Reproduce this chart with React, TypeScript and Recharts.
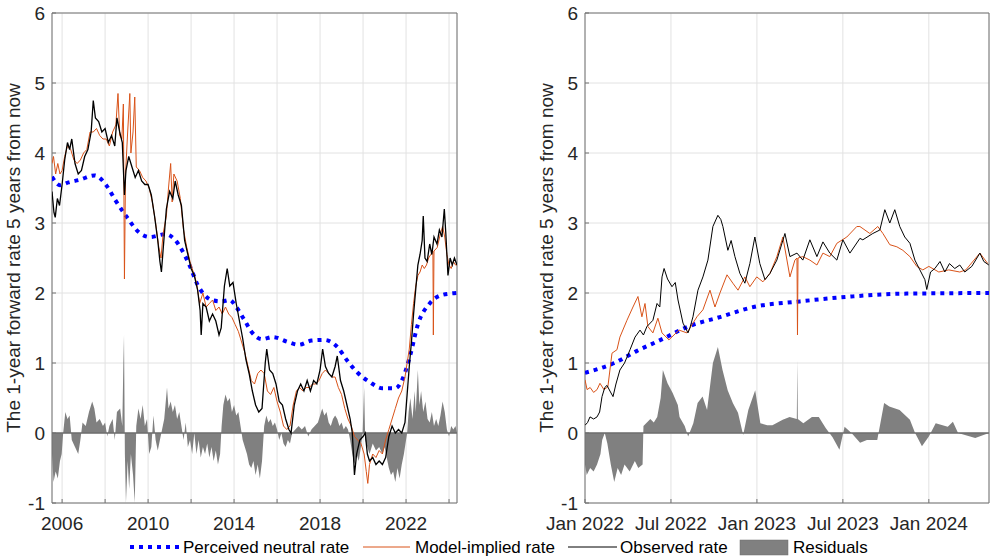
import React from 'react';
import { ComposedChart, Line, Area, XAxis, YAxis, CartesianGrid, ReferenceLine, ReferenceArea } from 'recharts';

type Pt = [number, number];

// ---- left panel (2005-2024), decimal years ----
const leftObserved: Pt[] = [
  [2005.53, 3.45], [2005.62, 3.15], [2005.68, 3.08], [2005.78, 3.35], [2005.88, 3.25], [2006.0, 3.55],
  [2006.12, 3.9], [2006.25, 4.15], [2006.35, 4.05], [2006.45, 4.2], [2006.6, 3.85], [2006.75, 3.7],
  [2006.9, 3.75], [2007.05, 3.95], [2007.2, 4.05], [2007.35, 4.3], [2007.45, 4.75], [2007.55, 4.5],
  [2007.7, 4.45], [2007.85, 4.3], [2008.0, 4.35], [2008.15, 4.15], [2008.3, 4.25], [2008.45, 4.1],
  [2008.55, 4.5], [2008.68, 4.3], [2008.8, 4.15], [2008.9, 3.4], [2008.97, 3.75], [2009.1, 3.95],
  [2009.25, 3.8], [2009.4, 3.65], [2009.55, 3.75], [2009.7, 3.6], [2009.85, 3.55], [2010.0, 3.55],
  [2010.15, 3.4], [2010.3, 3.1], [2010.45, 2.75], [2010.55, 2.45], [2010.62, 2.3], [2010.72, 2.7],
  [2010.85, 3.2], [2011.0, 3.45], [2011.15, 3.35], [2011.26, 3.6], [2011.4, 3.4], [2011.55, 3.25],
  [2011.7, 2.75], [2011.85, 2.55], [2012.0, 2.35], [2012.15, 2.25], [2012.3, 2.05], [2012.42, 1.75],
  [2012.47, 1.4], [2012.55, 1.85], [2012.7, 1.8], [2012.85, 1.6], [2013.0, 1.7], [2013.15, 1.6],
  [2013.3, 1.4], [2013.4, 1.5], [2013.55, 2.1], [2013.68, 2.35], [2013.8, 2.1], [2013.95, 2.15],
  [2014.1, 1.85], [2014.25, 1.6], [2014.4, 1.35], [2014.55, 1.05], [2014.7, 0.85], [2014.85, 0.6],
  [2015.0, 0.4], [2015.15, 0.3], [2015.3, 0.35], [2015.45, 1.0], [2015.52, 1.2], [2015.65, 0.9],
  [2015.8, 0.85], [2015.95, 0.7], [2016.1, 0.45], [2016.25, 0.4], [2016.4, 0.2], [2016.55, 0.05],
  [2016.65, 0.0], [2016.8, 0.4], [2016.95, 0.6], [2017.1, 0.7], [2017.25, 0.6], [2017.4, 0.75],
  [2017.55, 0.6], [2017.7, 0.75], [2017.85, 0.7], [2018.0, 0.9], [2018.12, 1.2], [2018.25, 0.95],
  [2018.4, 0.85], [2018.55, 0.8], [2018.7, 0.95], [2018.8, 1.1], [2018.95, 0.75], [2019.1, 0.6],
  [2019.25, 0.4], [2019.4, 0.2], [2019.5, 0.0], [2019.6, -0.6], [2019.7, -0.3], [2019.85, -0.1],
  [2020.0, -0.05], [2020.1, 0.0], [2020.2, -0.3], [2020.3, -0.4], [2020.45, -0.35], [2020.6, -0.45],
  [2020.75, -0.4], [2020.9, -0.45], [2021.05, -0.35], [2021.2, -0.05], [2021.35, 0.1], [2021.5, 0.0],
  [2021.65, 0.05], [2021.8, 0.0], [2021.95, 0.15], [2022.05, 0.55], [2022.15, 0.95], [2022.25, 1.3],
  [2022.35, 1.7], [2022.45, 2.05], [2022.55, 2.4], [2022.65, 2.55], [2022.75, 2.75], [2022.8, 3.1],
  [2022.88, 2.5], [2022.98, 2.45], [2023.1, 2.7], [2023.2, 2.55], [2023.3, 2.8], [2023.44, 2.7],
  [2023.55, 2.9], [2023.67, 2.8], [2023.78, 3.2], [2023.85, 2.85], [2023.95, 2.25], [2024.05, 2.5],
  [2024.15, 2.4], [2024.25, 2.5], [2024.37, 2.4],
];

const leftModel: Pt[] = [
  [2005.53, 3.85], [2005.6, 3.95], [2005.7, 3.7], [2005.8, 3.85], [2005.9, 3.7], [2006.0, 3.75],
  [2006.12, 3.95], [2006.25, 4.1], [2006.4, 4.05], [2006.55, 3.9], [2006.7, 3.85], [2006.85, 3.9],
  [2007.0, 4.0], [2007.15, 4.05], [2007.3, 4.3], [2007.45, 4.3], [2007.6, 4.35], [2007.75, 4.25],
  [2007.9, 4.2], [2008.05, 4.2], [2008.2, 4.1], [2008.35, 4.3], [2008.5, 4.4], [2008.6, 4.85],
  [2008.68, 4.25], [2008.78, 4.2], [2008.85, 4.7], [2008.9, 2.2], [2008.95, 3.7], [2009.05, 4.3],
  [2009.15, 4.85], [2009.2, 4.0], [2009.3, 4.3], [2009.38, 4.8], [2009.45, 3.8], [2009.6, 3.75],
  [2009.75, 3.65], [2009.9, 3.6], [2010.05, 3.5], [2010.2, 3.3], [2010.35, 3.0], [2010.5, 2.65],
  [2010.6, 2.5], [2010.7, 2.85], [2010.85, 3.1], [2010.95, 3.5], [2011.05, 3.85], [2011.12, 3.3],
  [2011.2, 3.7], [2011.35, 3.6], [2011.5, 3.35], [2011.65, 2.9], [2011.8, 2.65], [2011.95, 2.45],
  [2012.1, 2.3], [2012.25, 2.15], [2012.4, 1.85], [2012.55, 2.0], [2012.7, 1.8], [2012.85, 1.85],
  [2013.0, 1.9], [2013.15, 1.75], [2013.3, 1.8], [2013.45, 1.7], [2013.6, 1.8], [2013.75, 1.7],
  [2013.9, 1.65], [2014.05, 1.55], [2014.2, 1.45], [2014.35, 1.3], [2014.5, 1.15], [2014.65, 0.95],
  [2014.8, 0.75], [2014.95, 0.7], [2015.1, 0.85], [2015.25, 0.9], [2015.4, 0.85], [2015.55, 0.6],
  [2015.7, 0.55], [2015.85, 0.65], [2016.0, 0.45], [2016.15, 0.3], [2016.3, 0.1], [2016.45, 0.05],
  [2016.6, 0.1], [2016.75, 0.4], [2016.9, 0.6], [2017.05, 0.65], [2017.2, 0.6], [2017.35, 0.65],
  [2017.5, 0.65], [2017.65, 0.7], [2017.8, 0.7], [2017.95, 0.75], [2018.1, 0.85], [2018.25, 0.9],
  [2018.4, 0.85], [2018.55, 0.8], [2018.7, 0.8], [2018.85, 0.65], [2019.0, 0.55], [2019.15, 0.35],
  [2019.3, 0.2], [2019.45, 0.1], [2019.6, -0.05], [2019.75, -0.1], [2019.9, -0.15], [2020.05, -0.3],
  [2020.15, -0.55], [2020.22, -0.72], [2020.3, -0.45], [2020.45, -0.3], [2020.6, -0.35], [2020.75, -0.25],
  [2020.9, -0.3], [2021.05, -0.1], [2021.2, 0.05], [2021.35, 0.2], [2021.5, 0.35], [2021.65, 0.5],
  [2021.8, 0.6], [2021.95, 0.8], [2022.05, 1.0], [2022.15, 1.2], [2022.25, 1.55], [2022.35, 1.85],
  [2022.45, 2.1], [2022.55, 2.25], [2022.65, 2.3], [2022.75, 2.4], [2022.85, 2.35], [2022.95, 2.4],
  [2023.05, 2.5], [2023.15, 2.55], [2023.25, 2.6], [2023.27, 1.4], [2023.3, 2.6], [2023.45, 2.65],
  [2023.6, 2.85], [2023.7, 2.95], [2023.8, 2.8], [2023.9, 2.55], [2024.0, 2.4], [2024.1, 2.35],
  [2024.2, 2.45], [2024.3, 2.4], [2024.37, 2.4],
];

const leftNeutral: Pt[] = [
  [2005.53, 3.66], [2005.9, 3.54], [2006.3, 3.58], [2006.85, 3.62], [2007.5, 3.68], [2008.1, 3.52],
  [2008.47, 3.33], [2009.0, 3.09], [2009.6, 2.86], [2010.1, 2.8], [2010.8, 2.84], [2011.25, 2.76],
  [2011.6, 2.6], [2011.95, 2.38], [2012.3, 2.12], [2012.6, 1.98], [2012.95, 1.9], [2013.4, 1.88],
  [2013.8, 1.9], [2014.1, 1.8], [2014.45, 1.63], [2014.85, 1.43], [2015.3, 1.34], [2015.8, 1.37],
  [2016.5, 1.3], [2017.0, 1.26], [2017.6, 1.32], [2018.2, 1.33], [2018.8, 1.23], [2019.25, 1.04],
  [2019.75, 0.86], [2020.3, 0.73], [2020.9, 0.64], [2021.5, 0.64], [2021.85, 0.78], [2022.2, 1.12],
  [2022.55, 1.55], [2023.1, 1.85], [2023.65, 1.97], [2024.37, 2.0],
];

const leftResiduals: Pt[] = [
  [2005.53, -0.3], [2005.6, -0.7], [2005.7, -0.55], [2005.8, -0.65], [2005.9, -0.4], [2005.98, -0.3],
  [2006.05, 0.0], [2006.15, 0.3], [2006.25, 0.2], [2006.35, 0.25], [2006.45, -0.1], [2006.6, -0.2],
  [2006.75, -0.3], [2006.85, -0.1], [2006.95, 0.15], [2007.1, 0.1], [2007.25, 0.3], [2007.4, 0.45],
  [2007.5, 0.35], [2007.6, 0.15], [2007.75, 0.2], [2007.9, 0.1], [2008.0, 0.15], [2008.1, -0.05],
  [2008.2, 0.1], [2008.35, 0.2], [2008.45, -0.1], [2008.55, 0.3], [2008.7, 0.35], [2008.8, 0.1],
  [2008.85, 1.0], [2008.88, 1.4], [2008.92, -0.3], [2008.97, -1.0], [2009.05, -0.4], [2009.12, -0.8],
  [2009.2, -0.3], [2009.3, -0.6], [2009.38, -1.0], [2009.45, 0.1], [2009.55, 0.35], [2009.65, 0.2],
  [2009.75, 0.4], [2009.85, 0.1], [2009.95, 0.2], [2010.05, -0.3], [2010.15, -0.2], [2010.25, 0.25],
  [2010.35, -0.1], [2010.45, -0.25], [2010.55, -0.1], [2010.65, 0.05], [2010.75, 0.2], [2010.88, 0.65],
  [2010.95, 0.35], [2011.05, 0.45], [2011.15, 0.3], [2011.25, 0.4], [2011.35, 0.2], [2011.45, 0.3],
  [2011.55, 0.1], [2011.65, -0.1], [2011.75, 0.15], [2011.85, -0.2], [2011.95, -0.1], [2012.05, -0.3],
  [2012.15, 0.0], [2012.25, -0.3], [2012.35, -0.1], [2012.45, -0.35], [2012.55, -0.2], [2012.65, -0.3],
  [2012.75, -0.15], [2012.85, -0.35], [2012.95, -0.2], [2013.05, -0.4], [2013.15, -0.25], [2013.25, -0.45],
  [2013.35, -0.3], [2013.42, 0.1], [2013.5, 0.4], [2013.6, 0.55], [2013.7, 0.45], [2013.8, 0.5],
  [2013.9, 0.3], [2014.0, 0.4], [2014.1, 0.25], [2014.2, 0.3], [2014.3, 0.1], [2014.4, -0.1],
  [2014.5, -0.2], [2014.6, -0.3], [2014.7, -0.45], [2014.8, -0.5], [2014.9, -0.4], [2015.0, -0.6],
  [2015.1, -0.45], [2015.2, -0.65], [2015.3, -0.4], [2015.4, 0.1], [2015.5, 0.25], [2015.6, 0.15],
  [2015.7, 0.2], [2015.8, 0.1], [2015.9, 0.15], [2016.0, 0.05], [2016.1, -0.1], [2016.2, 0.0],
  [2016.3, -0.15], [2016.4, -0.2], [2016.5, -0.1], [2016.6, -0.15], [2016.7, 0.0], [2016.85, 0.05],
  [2017.0, 0.1], [2017.15, 0.05], [2017.3, 0.1], [2017.45, -0.05], [2017.6, 0.05], [2017.75, 0.1],
  [2017.9, 0.15], [2018.0, 0.25], [2018.1, 0.35], [2018.2, 0.25], [2018.3, 0.3], [2018.4, 0.15],
  [2018.5, 0.1], [2018.6, 0.2], [2018.7, 0.25], [2018.8, 0.2], [2018.9, 0.1], [2019.0, 0.15],
  [2019.1, 0.05], [2019.2, 0.1], [2019.3, 0.05], [2019.4, -0.1], [2019.5, -0.3], [2019.6, -0.45],
  [2019.7, -0.3], [2019.8, -0.4], [2019.9, -0.2], [2019.98, 0.0], [2020.05, 0.65], [2020.1, -0.1],
  [2020.2, -0.2], [2020.3, -0.3], [2020.45, -0.15], [2020.6, -0.25], [2020.75, -0.2], [2020.9, -0.3],
  [2021.0, -0.2], [2021.1, -0.35], [2021.2, -0.5], [2021.3, -0.6], [2021.4, -0.55], [2021.5, -0.7],
  [2021.6, -0.5], [2021.7, -0.65], [2021.8, -0.45], [2021.9, -0.3], [2022.0, -0.1], [2022.05, 0.0],
  [2022.12, 0.3], [2022.2, 0.5], [2022.3, 0.2], [2022.4, 0.6], [2022.45, 0.3], [2022.55, 0.9],
  [2022.62, 0.4], [2022.7, 0.6], [2022.8, 0.3], [2022.9, 0.45], [2023.0, 0.2], [2023.1, 0.15],
  [2023.2, 0.3], [2023.3, 0.1], [2023.4, 0.2], [2023.5, 0.1], [2023.6, 0.25], [2023.7, 0.45],
  [2023.8, 0.3], [2023.9, 0.05], [2024.0, -0.05], [2024.1, 0.1], [2024.2, 0.05], [2024.3, 0.1],
  [2024.37, 0.0],
];

// ---- right panel (Jan 2022 - 2024), decimal years ----
const rightObserved: Pt[] = [
  [2022.0, 0.11], [2022.015, 0.15], [2022.029, 0.23], [2022.05, 0.2], [2022.07, 0.23], [2022.085, 0.3],
  [2022.099, 0.52], [2022.115, 0.65], [2022.128, 0.68], [2022.145, 0.6], [2022.163, 0.52], [2022.18, 0.7],
  [2022.203, 0.9], [2022.23, 1.0], [2022.262, 1.19], [2022.291, 1.37], [2022.32, 1.47], [2022.34, 1.4],
  [2022.36, 1.52], [2022.395, 1.61], [2022.419, 1.85], [2022.435, 1.8], [2022.448, 2.23], [2022.46, 2.35],
  [2022.48, 2.2], [2022.506, 2.09], [2022.525, 2.15], [2022.541, 1.9], [2022.57, 1.57], [2022.599, 1.43],
  [2022.61, 1.5], [2022.628, 1.66], [2022.657, 2.04], [2022.686, 2.23], [2022.715, 2.47], [2022.744, 2.95],
  [2022.773, 3.11], [2022.79, 3.05], [2022.802, 2.95], [2022.831, 2.61], [2022.85, 2.75], [2022.872, 2.52],
  [2022.901, 2.28], [2022.93, 2.14], [2022.959, 2.42], [2022.988, 2.8], [2023.017, 2.42], [2023.047, 2.19],
  [2023.076, 2.28], [2023.116, 2.47], [2023.163, 2.85], [2023.192, 2.52], [2023.233, 2.57], [2023.267, 2.47],
  [2023.308, 2.76], [2023.349, 2.52], [2023.384, 2.73], [2023.424, 2.57], [2023.465, 2.47], [2023.5, 2.76],
  [2023.541, 2.57], [2023.599, 2.78], [2023.616, 2.76], [2023.674, 2.85], [2023.715, 2.9], [2023.744, 3.19],
  [2023.773, 3.0], [2023.802, 3.19], [2023.831, 2.95], [2023.86, 2.8], [2023.89, 2.71], [2023.919, 2.47],
  [2023.948, 2.33], [2023.977, 2.19], [2023.988, 2.05], [2024.01, 2.3], [2024.035, 2.35], [2024.065, 2.45],
  [2024.093, 2.3], [2024.12, 2.42], [2024.151, 2.35], [2024.18, 2.4], [2024.209, 2.3], [2024.25, 2.38],
  [2024.297, 2.57], [2024.32, 2.45], [2024.349, 2.4],
];

const rightModel: Pt[] = [
  [2022.0, 0.76], [2022.012, 0.62], [2022.03, 0.65], [2022.05, 0.58], [2022.07, 0.62], [2022.087, 0.71],
  [2022.11, 0.62], [2022.133, 0.66], [2022.157, 1.14], [2022.186, 1.19], [2022.203, 1.37], [2022.244, 1.61],
  [2022.279, 1.8], [2022.308, 1.95], [2022.331, 1.66], [2022.349, 1.85], [2022.366, 1.52], [2022.395, 1.43],
  [2022.424, 1.64], [2022.448, 1.43], [2022.488, 1.33], [2022.547, 1.47], [2022.593, 1.43], [2022.651, 1.66],
  [2022.686, 1.76], [2022.727, 2.04], [2022.756, 1.8], [2022.785, 2.0], [2022.826, 2.26], [2022.86, 2.14],
  [2022.89, 2.04], [2022.93, 2.23], [2022.959, 2.09], [2022.999, 2.23], [2023.035, 2.16], [2023.076, 2.28],
  [2023.116, 2.52], [2023.151, 2.8], [2023.192, 2.23], [2023.221, 2.47], [2023.233, 2.5], [2023.236, 1.4],
  [2023.239, 2.5], [2023.267, 2.52], [2023.308, 2.47], [2023.349, 2.4], [2023.384, 2.57], [2023.424, 2.52],
  [2023.465, 2.71], [2023.523, 2.8], [2023.581, 2.95], [2023.599, 2.95], [2023.657, 2.85], [2023.703, 2.95],
  [2023.733, 2.85], [2023.773, 2.69], [2023.814, 2.66], [2023.849, 2.61], [2023.89, 2.52], [2023.93, 2.38],
  [2023.965, 2.33], [2024.0, 2.38], [2024.058, 2.3], [2024.116, 2.33], [2024.18, 2.3], [2024.215, 2.33],
  [2024.297, 2.57], [2024.343, 2.42],
];

const rightNeutral: Pt[] = [
  [2022.0, 0.86], [2022.17, 1.0], [2022.3, 1.17], [2022.44, 1.33], [2022.6, 1.52], [2022.79, 1.66],
  [2022.98, 1.8], [2023.25, 1.88], [2023.55, 1.95], [2023.84, 1.99], [2024.35, 2.0],
];

const rightResiduals: Pt[] = [
  [2022.0, -0.45], [2022.01, -0.6], [2022.03, -0.5], [2022.05, -0.55], [2022.07, -0.45], [2022.09, -0.3],
  [2022.1, -0.1], [2022.115, 0.0], [2022.13, -0.15], [2022.15, -0.45], [2022.17, -0.7], [2022.19, -0.5],
  [2022.21, -0.6], [2022.23, -0.45], [2022.26, -0.55], [2022.29, -0.4], [2022.31, -0.5], [2022.335, -0.45],
  [2022.34, 0.1], [2022.36, 0.15], [2022.38, 0.2], [2022.4, 0.15], [2022.42, 0.23], [2022.44, 0.5],
  [2022.453, 0.9], [2022.48, 0.71], [2022.51, 0.57], [2022.54, 0.4], [2022.55, 0.23], [2022.58, 0.1],
  [2022.6, -0.05], [2022.63, 0.14], [2022.655, 0.43], [2022.684, 0.52], [2022.71, 0.33], [2022.744, 1.0],
  [2022.773, 1.23], [2022.8, 0.9], [2022.83, 0.61], [2022.86, 0.43], [2022.89, 0.29], [2022.92, -0.03],
  [2022.95, 0.33], [2022.99, 0.61], [2023.02, 0.14], [2023.06, 0.11], [2023.09, 0.11], [2023.15, 0.19],
  [2023.19, 0.23], [2023.232, 0.2], [2023.235, 1.04], [2023.238, 0.2], [2023.27, 0.14], [2023.32, 0.23],
  [2023.36, 0.23], [2023.4, 0.07], [2023.44, -0.06], [2023.48, -0.24], [2023.51, 0.09], [2023.55, 0.0],
  [2023.6, -0.14], [2023.64, -0.1], [2023.7, -0.1], [2023.74, 0.43], [2023.77, 0.38], [2023.83, 0.33],
  [2023.89, 0.19], [2023.92, 0.0], [2023.96, -0.19], [2024.0, -0.05], [2024.04, 0.14], [2024.11, 0.09],
  [2024.14, 0.16], [2024.17, 0.0], [2024.27, -0.07], [2024.35, 0.0],
];

const yTicks = [-1, 0, 1, 2, 3, 4, 5, 6];
const leftTicks = [2006, 2008, 2010, 2012, 2014, 2016, 2018, 2020, 2022, 2024];
const leftTickLabels = ['2006', '', '2010', '', '2014', '', '2018', '', '2022', ''];
const rightTicks = [2022, 2022.5, 2023, 2023.5, 2024];
const rightTickLabels = ['Jan 2022', 'Jul 2022', 'Jan 2023', 'Jul 2023', 'Jan 2024'];

const yLabel = 'The 1-year forward rate 5 years from now';
const FONT = '"Liberation Sans", Arial, Helvetica, sans-serif';
const BLUE = '#0000ff';
const ORANGE = '#D95319';
const GRAY = '#808080';

const rows = (pts: Pt[]) => pts.map(([t, v]) => ({ t, v }));

type PanelProps = {
  left: number;
  width: number;
  yAxisWidth: number;
  marginRight: number;
  domain: [number, number];
  ticks: number[];
  labels: string[];
  observed: Pt[];
  model: Pt[];
  neutral: Pt[];
  residuals: Pt[];
  obsWidth: number;
};

const Panel = (p: PanelProps) => {
  const fmt = (v: number) => {
    const i = p.ticks.indexOf(v);
    return i >= 0 ? p.labels[i] : '';
  };
  const tickStyle = { fill: '#262626', fontSize: 19, fontFamily: FONT };
  return (
    <div style={{ position: 'absolute', left: p.left, top: 0 }}>
      <ComposedChart width={p.width} height={540} margin={{ top: 13, right: p.marginRight, bottom: 0, left: 0 }}>
        <CartesianGrid stroke="#e2e2e2" />
        <XAxis
          type="number"
          dataKey="t"
          domain={p.domain}
          allowDataOverflow
          ticks={p.ticks}
          interval={0}
          tickFormatter={fmt}
          height={37}
          axisLine={false}
          tickSize={-4}
          tickMargin={18}
          tickLine={{ stroke: '#737373' }}
          tick={tickStyle}
        />
        <YAxis
          type="number"
          domain={[-1, 6]}
          allowDataOverflow
          ticks={yTicks}
          interval={0}
          width={p.yAxisWidth}
          axisLine={false}
          tickSize={-4}
          tickMargin={11}
          tickLine={{ stroke: '#737373' }}
          tick={tickStyle}
        />
        <Area
          data={rows(p.residuals)}
          dataKey="v"
          type="linear"
          baseValue={0}
          fill={GRAY}
          fillOpacity={1}
          stroke="none"
          dot={false}
          activeDot={false}
          isAnimationActive={false}
        />
        <ReferenceLine y={0} stroke="#6e6e6e" strokeWidth={1.5} />
        <Line
          data={rows(p.neutral)}
          dataKey="v"
          type="monotone"
          stroke={BLUE}
          strokeWidth={4}
          strokeDasharray="4 5"
          dot={false}
          activeDot={false}
          isAnimationActive={false}
        />
        <Line
          data={rows(p.model)}
          dataKey="v"
          type="linear"
          stroke={ORANGE}
          strokeWidth={1}
          dot={false}
          activeDot={false}
          isAnimationActive={false}
        />
        <Line
          data={rows(p.observed)}
          dataKey="v"
          type="linear"
          stroke="#000000"
          strokeWidth={p.obsWidth}
          dot={false}
          activeDot={false}
          isAnimationActive={false}
        />
        <ReferenceArea x1={p.domain[0]} x2={p.domain[1]} y1={-1} y2={6} fill="none" stroke="#737373" strokeWidth={1} />
      </ComposedChart>
    </div>
  );
};

const App = () => (
  <div style={{ position: 'absolute', left: 0, top: 0, width: 990, height: 558, background: '#fff', fontFamily: FONT }}>
    <Panel
      left={0}
      width={470}
      yAxisWidth={52}
      marginRight={13}
      domain={[2005.53, 2024.37]}
      ticks={leftTicks}
      labels={leftTickLabels}
      observed={leftObserved}
      model={leftModel}
      neutral={leftNeutral}
      residuals={leftResiduals}
      obsWidth={1.3}
    />
    <Panel
      left={530}
      width={460}
      yAxisWidth={55}
      marginRight={1}
      domain={[2022, 2024.35]}
      ticks={rightTicks}
      labels={rightTickLabels}
      observed={rightObserved}
      model={rightModel}
      neutral={rightNeutral}
      residuals={rightResiduals}
      obsWidth={1}
    />
    <svg width={990} height={558} style={{ position: 'absolute', left: 0, top: 0, pointerEvents: 'none' }}>
      <text x={20} y={258} transform="rotate(-90 20 258)" textAnchor="middle" fontSize={19} fill="#262626" fontFamily={FONT}>
        {yLabel}
      </text>
      <text x={553} y={258} transform="rotate(-90 553 258)" textAnchor="middle" fontSize={19} fill="#262626" fontFamily={FONT}>
        {yLabel}
      </text>
      <g fontSize={17} fill="#000" fontFamily={FONT}>
        <line x1={130} x2={180} y1={547} y2={547} stroke={BLUE} strokeWidth={4} strokeDasharray="4 5" />
        <text x={183} y={553}>Perceived neutral rate</text>
        <line x1={363} x2={410} y1={547} y2={547} stroke={ORANGE} strokeWidth={1} />
        <text x={415} y={553}>Model-implied rate</text>
        <line x1={568} x2={617} y1={547} y2={547} stroke="#000" strokeWidth={1} />
        <text x={620} y={553}>Observed rate</text>
        <rect x={740} y={540} width={48} height={15} fill={GRAY} stroke="#6e6e6e" strokeWidth={0.5} />
        <text x={793} y={553}>Residuals</text>
      </g>
    </svg>
  </div>
);

export default App;
